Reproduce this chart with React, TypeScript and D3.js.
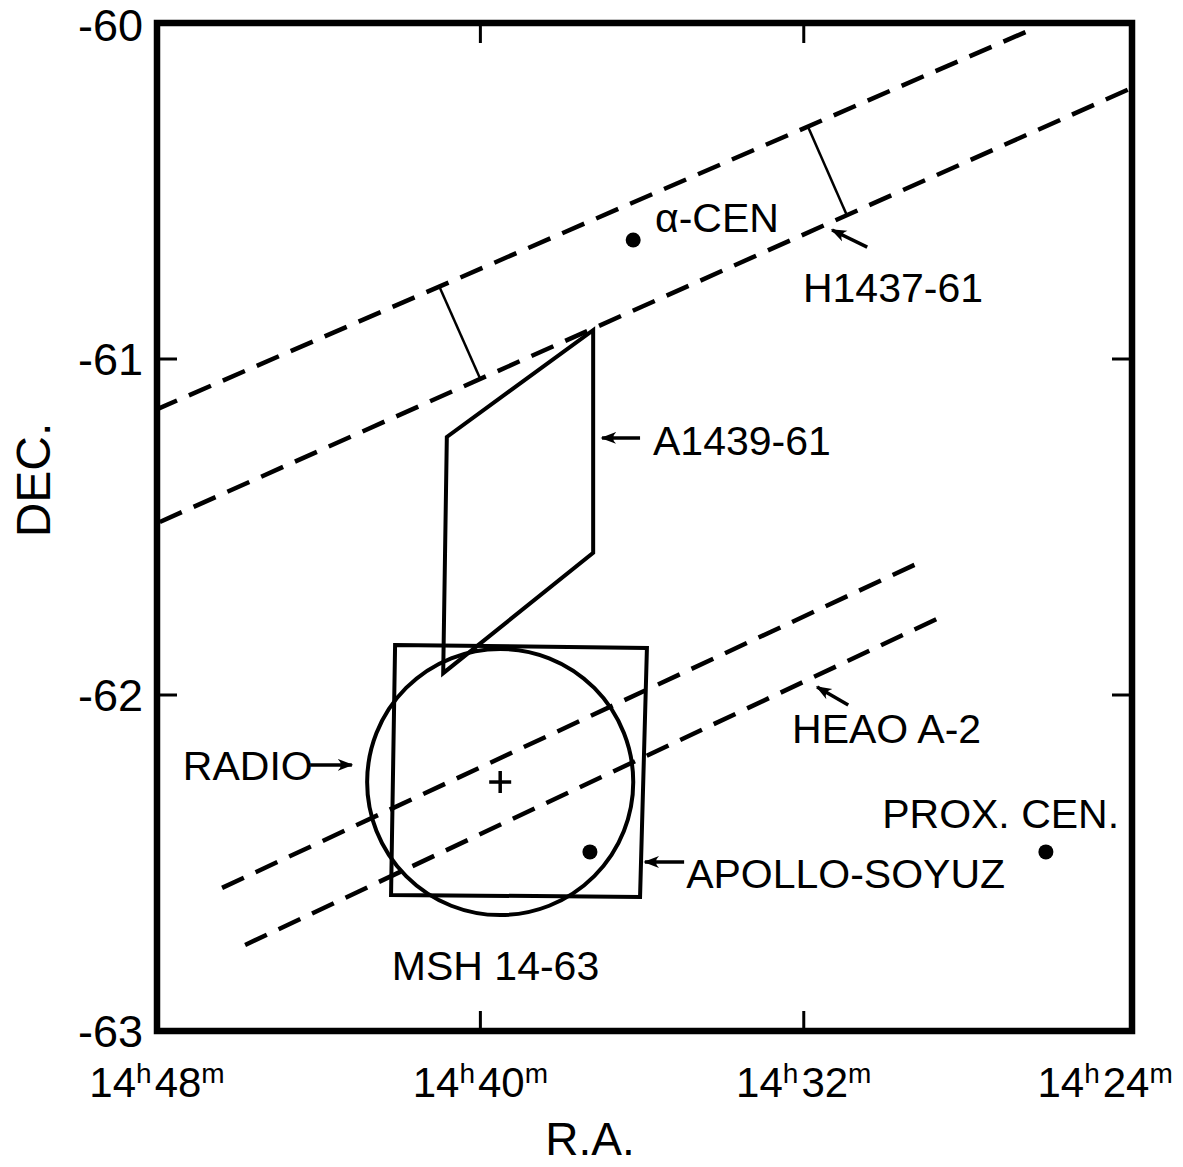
import React from 'react';
import * as d3 from 'd3';

// RA in minutes past 14h, Dec in degrees
const raTicks = [48, 40, 32, 24];
const decTicks = [-60, -61, -62, -63];

// H1437-61 error band (two dashed lines + cross bars)
const h1437Upper = [[48.05, -61.152], [26.4, -60.021]];
const h1437Lower = [[47.93, -61.485], [23.88, -60.193]];
const h1437Bars = [
  [[41.0, -60.789], [40.01, -61.057]],
  [[31.89, -60.31], [30.95, -60.568]],
];

// HEAO A-2 band
const heaoUpper = [[46.39, -62.574], [29.0, -61.598]];
const heaoLower = [[45.82, -62.744], [28.5, -61.762]];

// A1439-61 error box
const a1439Box = [[37.21, -60.914], [37.21, -61.577], [40.92, -61.935], [40.83, -61.232]];

// Apollo-Soyuz box
const apolloBox = [[42.11, -61.851], [35.88, -61.86], [36.05, -62.601], [42.21, -62.595]];

// radio remnant MSH 14-63
const radioCenter = [39.51, -62.259];
const radioRadius = 0.396; // deg

const stars = [
  { name: 'alphaCen', pos: [36.22, -60.646] },
  { name: 'proxCen', pos: [26.01, -62.467] },
  { name: 'inBox', pos: [37.29, -62.467] },
];

const labels = [
  { text: 'α-CEN', pos: [35.68, -60.621] },
  { text: 'H1437-61', pos: [32.02, -60.83] },
  { text: 'A1439-61', pos: [35.73, -61.286] },
  { text: 'HEAO A-2', pos: [32.29, -62.143] },
  { text: 'RADIO', pos: [47.36, -62.253] },
  { text: 'APOLLO-SOYUZ', pos: [34.91, -62.574] },
  { text: 'PROX. CEN.', pos: [30.06, -62.396] },
  { text: 'MSH 14-63', pos: [42.19, -62.848] },
];

const arrows = [
  [[30.43, -60.667], [31.3, -60.616]],
  [[36.05, -61.235], [36.99, -61.235]],
  [[30.9, -62.03], [31.67, -61.976]],
  [[44.21, -62.208], [43.18, -62.208]],
  [[34.96, -62.497], [35.93, -62.497]],
];

const W = 1183;
const H = 1167;
const left = 157, right = 1132, top = 23, bottom = 1031;
const font = '"Liberation Sans", Arial, sans-serif';

export default function App() {
  const x = d3.scaleLinear().domain([48, 23.88]).range([left, right]);
  const y = d3.scaleLinear().domain([-60, -63]).range([top, bottom]);
  const line = d3.line<number[]>().x((d) => x(d[0])).y((d) => y(d[1]));
  const closed = d3.line<number[]>().x((d) => x(d[0])).y((d) => y(d[1])).curve(d3.curveLinearClosed);

  const ry = y(radioCenter[1] - radioRadius) - y(radioCenter[1]);
  const dash = '24 13';

  return (
    <svg width={W} height={H} style={{ position: 'absolute', left: 0, top: 0, background: '#fff' }}
      fontFamily={font}>
      <defs>
        <marker id="ah" viewBox="0 0 10 10" refX="9" refY="5" markerWidth="4.5" markerHeight="4.5"
          orient="auto" markerUnits="strokeWidth">
          <path d="M0,1.2 Q4,5 0,8.8 L10,5 Z" fill="#000" />
        </marker>
      </defs>

      {/* frame */}
      <rect x={left} y={top} width={right - left} height={bottom - top} fill="none" stroke="#000" strokeWidth={6.5} />

      {/* inward ticks */}
      {raTicks.slice(1, 3).map((t) => (
        <g key={'xt' + t}>
          <line x1={x(t)} x2={x(t)} y1={bottom} y2={bottom - 20} stroke="#000" strokeWidth={3} />
          <line x1={x(t)} x2={x(t)} y1={top} y2={top + 20} stroke="#000" strokeWidth={3} />
        </g>
      ))}
      {decTicks.slice(1, 3).map((t) => (
        <g key={'yt' + t}>
          <line x1={left} x2={left + 20} y1={y(t)} y2={y(t)} stroke="#000" strokeWidth={3} />
          <line x1={right} x2={right - 20} y1={y(t)} y2={y(t)} stroke="#000" strokeWidth={3} />
        </g>
      ))}

      {/* y tick labels */}
      {decTicks.map((t) => (
        <text key={'yl' + t} x={left - 14} y={y(t) + (t === -60 ? 18 : 16)} textAnchor="end" fontSize={45}>
          {'-' + Math.abs(t)}
        </text>
      ))}

      {/* x tick labels */}
      {raTicks.map((t, i) => {
        const last = i === raTicks.length - 1;
        return (
          <text key={'xl' + t} x={last ? x(t) - 22 : x(t)} y={1097} textAnchor="middle" fontSize={42}>
            <tspan>14</tspan>
            <tspan fontSize={28} dy={-14}>h</tspan>
            <tspan dy={14} dx={3}>{t}</tspan>
            <tspan fontSize={28} dy={-14}>m</tspan>
          </text>
        );
      })}

      <text x={590} y={1155} textAnchor="middle" fontSize={46}>R.A.</text>
      <text transform={`translate(50,480) rotate(-90)`} textAnchor="middle" fontSize={48}>DEC.</text>

      {/* dashed bands */}
      {[h1437Upper, h1437Lower, heaoUpper, heaoLower].map((l, i) => (
        <path key={'d' + i} d={line(l) || ''} fill="none" stroke="#000" strokeWidth={4.5}
          strokeDasharray={dash} strokeLinecap="butt" />
      ))}
      {h1437Bars.map((b, i) => (
        <path key={'b' + i} d={line(b) || ''} fill="none" stroke="#000" strokeWidth={2.5} />
      ))}

      {/* boxes */}
      <path d={closed(a1439Box) || ''} fill="none" stroke="#000" strokeWidth={4} strokeLinejoin="miter" />
      <path d={closed(apolloBox) || ''} fill="none" stroke="#000" strokeWidth={4} />

      {/* radio circle */}
      <circle cx={x(radioCenter[0])} cy={y(radioCenter[1])} r={ry} fill="none" stroke="#000" strokeWidth={4} />
      <line x1={x(radioCenter[0]) - 11} x2={x(radioCenter[0]) + 11} y1={y(radioCenter[1])} y2={y(radioCenter[1])}
        stroke="#000" strokeWidth={3.5} />
      <line x1={x(radioCenter[0])} x2={x(radioCenter[0])} y1={y(radioCenter[1]) - 11} y2={y(radioCenter[1]) + 11}
        stroke="#000" strokeWidth={3.5} />

      {/* stars */}
      {stars.map((s) => (
        <circle key={s.name} cx={x(s.pos[0])} cy={y(s.pos[1])} r={7.5} fill="#000" />
      ))}

      {/* arrows */}
      {arrows.map((a, i) => (
        <path key={'a' + i} d={line(a) || ''} fill="none" stroke="#000" strokeWidth={3.5} markerEnd="url(#ah)" />
      ))}

      {/* labels */}
      {labels.map((l) => (
        <text key={l.text} x={x(l.pos[0])} y={y(l.pos[1])} fontSize={41}>{l.text}</text>
      ))}
    </svg>
  );
}
